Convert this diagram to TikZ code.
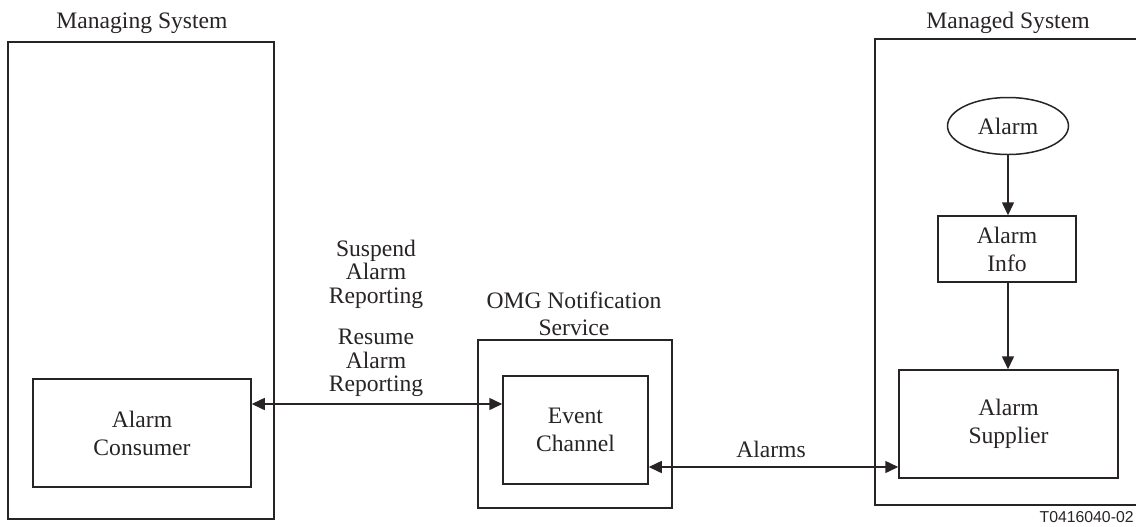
\documentclass[tikz,border=0pt]{standalone}
\usepackage{fontspec}
\setmainfont{Liberation Serif}
\newfontfamily\labelsans{Liberation Sans}
\usetikzlibrary{arrows.meta,shapes.geometric}
\definecolor{ink}{RGB}{40,36,38}
\tikzset{
  box/.style={draw=ink, line width=0.75pt, rectangle, inner sep=0pt, align=center,
    font=\fontsize{11.8}{14}\selectfont, text=ink},
  txt/.style={inner sep=0pt, align=center, font=\fontsize{11.8}{13.5}\selectfont, text=ink},
  tight/.style={inner sep=0pt, align=center, font=\fontsize{11.8}{11.75}\selectfont, text=ink},
  link/.style={draw=ink, line width=0.75pt, -{Triangle[length=6.5pt,width=6pt]}},
  duplex/.style={draw=ink, line width=0.75pt, {Triangle[length=6.5pt,width=6pt]}-{Triangle[length=6.5pt,width=6pt]}},
}
\begin{document}
\begin{tikzpicture}[x=0.5pt,y=-0.5pt]
\useasboundingbox[fill=white] (0,0) rectangle (1136,526);

% Managing system side
\node[box, minimum width=133pt, minimum height=238.5pt] (mgr) at (141,280.5) {};
\node[txt] (mgrt) at (142,23) {Managing System};
\node[box, minimum width=109pt, minimum height=54pt] (cons) at (142,433) {Alarm\\Consumer};

% Notification service
\node[box, minimum width=97pt, minimum height=84pt] (omg) at (575,424) {};
\node[txt] (omgt) at (574,313.5) {OMG Notification\\Service};
\node[box, minimum width=72.5pt, minimum height=54pt] (chan) at (575.5,430) {Event\\Channel};

% Managed system side
\node[box, minimum width=137.5pt, minimum height=233pt] (mgd) at (1012.5,272) {};
\node[txt] (mgdt) at (1008,23) {Managed System};
\node[box, ellipse, minimum width=60.5pt, minimum height=28.5pt] (alarm) at (1008,126) {Alarm};
\node[box, minimum width=69pt, minimum height=33pt] (info) at (1007,249) {Alarm\\Info};
\node[box, minimum width=109.5pt, minimum height=54pt] (supp) at (1008.5,424) {Alarm\\Supplier};

% Operation labels
\node[tight] (susp) at (376,274) {Suspend\\Alarm\\Reporting};
\node[tight] (resm) at (376,363) {Resume\\Alarm\\Reporting};
\node[txt] (alms) at (771,449) {Alarms};
\node[inner sep=0pt, anchor=base east, font=\labelsans\fontsize{7.9}{9}\selectfont, text=ink] (tag) at (1134,522) {T0416040-02};

% Connectors
\draw[duplex] (cons.east |- 0,404) -- (chan.west |- 0,404);
\draw[duplex] (chan.east |- 0,467) -- (supp.west |- 0,467);
\draw[link] (alarm.south) -- (info.north -| alarm.south);
\draw[link] (info.south -| alarm.south) -- (supp.north -| alarm.south);
\end{tikzpicture}
\end{document}
